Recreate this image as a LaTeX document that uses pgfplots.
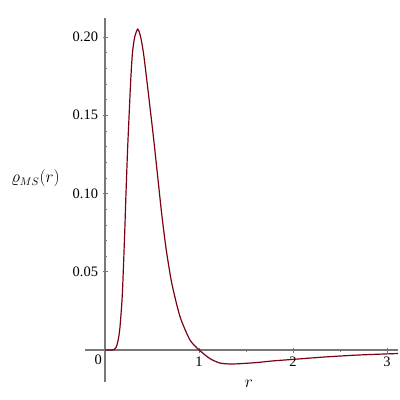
\documentclass[border=0pt]{standalone}
\usepackage{fontspec}
\setmainfont{Liberation Serif}
\usepackage{pgfplots}
\pgfplotsset{compat=1.18}
\definecolor{curvered}{RGB}{122,0,18}
\definecolor{axisgray}{RGB}{120,120,120}

\begin{document}
\begin{tikzpicture}[x=1bp,y=1bp]
\begin{axis}[
    at={(85bp,18bp)}, anchor=south west,
    scale only axis,
    width=313bp, height=364bp,
    xmin=-0.213, xmax=3.117,
    ymin=-0.0204, ymax=0.2121,
    axis lines=middle,
    axis line style={-, axisgray, line width=1.2pt},
    xtick={1,2,3}, ytick={0.05,0.10,0.15,0.20},
    minor x tick num=1, minor y tick num=4,
    tick style={axisgray, line width=0.6pt},
    major tick length=5bp, minor tick length=3bp,
    tick align=center,
    yticklabel style={/pgf/number format/fixed, /pgf/number format/fixed zerofill,
        /pgf/number format/precision=2, font=\fontsize{14.5}{15}\selectfont, xshift=-1bp},
    xticklabel style={font=\fontsize{14.5}{15}\selectfont, yshift=-1bp},
    /pgf/number format/assume math mode=true,
    xlabel={$r$},
    every axis x label/.style={at={(rel axis cs:0.524,-0.005)}, anchor=center,
        font=\fontsize{16}{17}\selectfont},
    ylabel={$\varrho_{MS}(r)$},
    every axis y label/.style={at={(rel axis cs:-0.158,0.560)}, anchor=center,
        font=\fontsize{16}{17}\selectfont},
    clip=false,
]
\addplot[curvered, line width=1.2pt, smooth, tension=0.4] coordinates {
    (0.00,0) (0.08,0) (0.10,0.0005) (0.12,0.002) (0.137,0.0056) (0.15,0.010)
    (0.161,0.016) (0.182,0.033) (0.196,0.053) (0.210,0.076) (0.223,0.100)
    (0.240,0.128) (0.257,0.151) (0.274,0.173) (0.292,0.190) (0.316,0.200)
    (0.348,0.205) (0.379,0.200) (0.413,0.188) (0.465,0.162) (0.517,0.135)
    (0.567,0.107) (0.603,0.087) (0.649,0.065) (0.709,0.0430) (0.798,0.0213)
    (0.904,0.0064) (1.003,0) (1.117,-0.0055) (1.223,-0.0083) (1.33,-0.0089)
    (1.436,-0.0087) (1.61,-0.0080) (1.79,-0.0069) (1.97,-0.0061) (2.32,-0.0045)
    (2.68,-0.0032) (3.117,-0.0022)
};
\node[anchor=north east, font=\fontsize{14.5}{15}\selectfont, inner sep=2bp]
    at (axis cs:-0.01,-0.002) {0};
\end{axis}
\pgfresetboundingbox
\path (0,0) rectangle (400bp,400bp);
\end{tikzpicture}
\end{document}
